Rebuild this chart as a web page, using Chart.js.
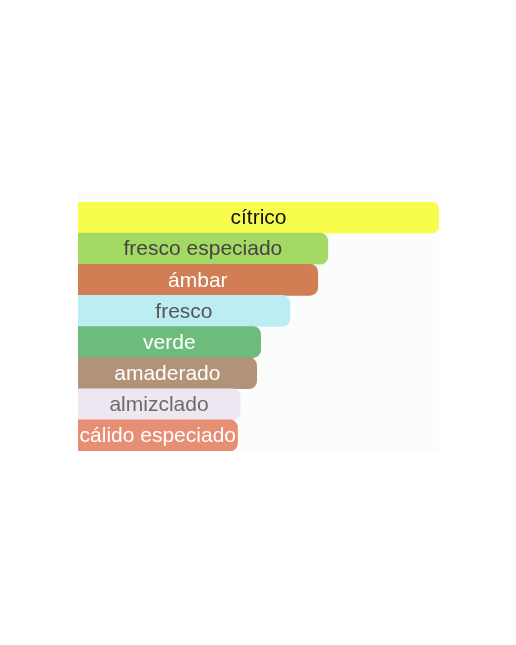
<!DOCTYPE html>
<html>
<head>
<meta charset="utf-8">
<script src="https://cdn.jsdelivr.net/npm/chart.js@4"></script>
<style>
  html, body { margin: 0; padding: 0; background: #ffffff; width: 516px; height: 645px; overflow: hidden; }
  #wrap { position: absolute; left: 78px; top: 192px; width: 361px; height: 259px; background: #fcfcfc; }
</style>
</head>
<body>
<div id="wrap"><canvas id="c"></canvas></div>
<script>
const categories = ["cítrico", "fresco especiado", "ámbar", "fresco", "verde", "amaderado", "almizclado", "cálido especiado"];
const values = [100, 69.2, 66.4, 58.7, 50.6, 49.5, 44.9, 44.2];
const barColors = ["#f8fd4d", "#a4d964", "#d17e54", "#bbedf2", "#6ebc7c", "#b39378", "#eee7f1", "#e68f74"];
const labelColors = ["#111111", "#444444", "#ffffff", "#555555", "#ffffff", "#ffffff", "#6b6b6b", "#ffffff"];

const barLabels = {
  id: 'barLabels',
  afterDatasetsDraw(chart) {
    const ctx = chart.ctx;
    const meta = chart.getDatasetMeta(0);
    ctx.save();
    ctx.font = "21px 'Liberation Sans', Arial, sans-serif";
    ctx.textAlign = 'center';
    ctx.textBaseline = 'middle';
    meta.data.forEach((bar, i) => {
      const p = bar.getProps(['x', 'y', 'base'], true);
      ctx.fillStyle = labelColors[i];
      ctx.fillText(categories[i], (p.x + p.base) / 2, p.y + 1);
    });
    ctx.restore();
  }
};

new Chart(document.getElementById('c'), {
  type: 'bar',
  data: {
    labels: categories,
    datasets: [{
      data: values,
      backgroundColor: barColors,
      borderWidth: 0,
      borderRadius: 8,
      barPercentage: 1,
      categoryPercentage: 1
    }]
  },
  options: {
    indexAxis: 'y',
    responsive: true,
    maintainAspectRatio: false,
    animation: false,
    devicePixelRatio: 1,
    layout: { padding: { top: 10, left: 0, right: 0, bottom: 0 } },
    plugins: { legend: { display: false }, tooltip: { enabled: false } },
    scales: {
      x: { display: false, min: 0, max: 100 },
      y: { display: false }
    }
  },
  plugins: [barLabels]
});
</script>
</body>
</html>
